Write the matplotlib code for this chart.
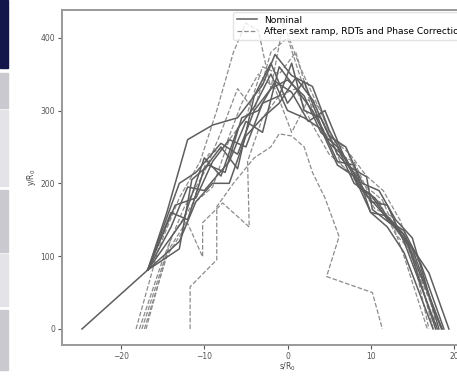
import matplotlib
matplotlib.use("Agg")
import matplotlib.pyplot as plt
from matplotlib.patches import Rectangle

# Nominal curves (solid)
nom_x = [
    [-24.7, -16.8, -14.5, -12, -9, -6, -3, -1.5, 0.5, 3, 5, 7.4, 9.5, 10.2, 13.8, 17, 19.4],
    [-16.8, -13, -11, -8, -6, -4, -2, 0, 2, 4, 6, 8, 10, 12, 14, 16, 18.8],
    [-16.8, -14, -12, -10, -7, -5, -3, -1, 1, 3, 5, 7, 9, 11, 13, 15, 18.5],
    [-16.8, -13.5, -11, -9, -7, -5, -3, -1, 0.5, 2, 4, 6, 8, 10, 12, 14, 18],
    [-16.8, -12.5, -10, -8, -6, -4, -2, 0, 2, 4, 6, 8, 10, 12, 14, 17.5],
    [-16.8, -13, -11, -9, -7, -5, -3, -1, 1, 3, 5, 7, 9, 11, 13, 15, 18.2],
    [-16.8, -14, -12, -10, -8, -6, -4, -2, 0, 2, 4, 6, 8, 10, 12, 14, 18.6],
    [-16.8, -13, -11.5, -9.5, -7.5, -5.5, -3.5, -1.5, 0.5, 2.5, 4.5, 6.5, 8.5, 10.5, 12.5, 14.5, 17.8],
]
nom_y = [
    [0, 81, 160, 260, 280, 290, 335, 377, 348, 333, 273, 223, 209, 164, 132, 77, 0],
    [81, 200, 215, 255, 240, 300, 330, 342, 320, 270, 250, 200, 185, 150, 135, 90, 0],
    [81, 140, 195, 190, 230, 285, 270, 360, 330, 300, 255, 235, 190, 165, 140, 110, 0],
    [81, 170, 180, 230, 260, 250, 310, 320, 365, 300, 290, 240, 215, 175, 170, 120, 0],
    [81, 150, 235, 210, 275, 305, 350, 300, 290, 275, 225, 210, 160, 140, 105, 0],
    [81, 120, 175, 200, 200, 265, 290, 310, 345, 315, 265, 250, 200, 190, 150, 125, 0],
    [81, 160, 150, 220, 250, 220, 320, 365, 310, 340, 280, 230, 225, 160, 155, 130, 0],
    [81, 110, 205, 225, 215, 290, 300, 340, 325, 285, 300, 245, 195, 180, 145, 115, 0],
]

# After sextupole ramp + corrections (dashed)
corr_x = [
    [-18.2, -15.5, -13, -10.5, -8.5, -6.5, -5, -3.5, -2, -0.5, 1.5, 3.5, 5.5, 7.5, 9.5, 11.5, 13.5, 15.5, 17.5],
    [-17.8, -15, -12.5, -10, -8, -6, -4, -2, 0, 2, 4, 6, 8, 10, 12, 14, 16, 18],
    [-17.5, -14.5, -12, -9.5, -7.5, -5.5, -3.5, -1.5, 0.5, 2.5, 4.5, 6.5, 8.5, 10.5, 12.5, 14.5, 18.5],
    [-17, -14, -11.5, -9, -7, -5, -3, -1, 1, 3, 5, 7, 9, 11, 13, 15, 17],
    [-11.7, -11.7, -8.5, -8.5, -6.5, -4, -2, -1, 0.5, 2, 3, 4.5, 6.2, 4.7, 10.2, 11.4],
    [-17.2, -14.5, -12, -10.2, -10.2, -7.8, -4.6, -4.8, -3, -1, 1, 3, 5, 7, 9, 11.4, 12.6, 14, 16.8],
]
corr_y = [
    [0, 110, 180, 230, 300, 380, 420, 410, 330, 420, 360, 310, 260, 240, 210, 190, 150, 90, 0],
    [0, 95, 165, 215, 270, 330, 300, 380, 400, 330, 300, 240, 230, 180, 170, 120, 90, 0],
    [0, 105, 150, 240, 250, 310, 350, 330, 270, 315, 280, 225, 200, 165, 155, 110, 0],
    [0, 125, 170, 195, 260, 290, 360, 350, 380, 300, 260, 250, 190, 175, 130, 105, 0],
    [0, 58, 95, 168, 200, 235, 250, 268, 265, 250, 215, 180, 127, 72, 50, 0],
    [0, 100, 145, 99, 146, 173, 140, 230, 290, 320, 330, 280, 240, 220, 200, 177, 145, 100, 0],
]

fig = plt.figure(figsize=(4.57, 3.76), dpi=100)

# bits of the surrounding page on the left edge
fig.patches.append(Rectangle((0, 1 - 68 / 376), 8 / 457, 68 / 376, transform=fig.transFigure, color="#12164a"))
for top, bot, col in [(73, 108, "#c9c9cf"), (110, 186, "#e4e4e8"), (190, 252, "#c9c9cf"),
                      (254, 306, "#e4e4e8"), (310, 370, "#c9c9cf")]:
    fig.patches.append(Rectangle((0, 1 - bot / 376), 8 / 457, (bot - top) / 376,
                                 transform=fig.transFigure, color=col))

ax = fig.add_axes([62 / 457, 31 / 376, 451 / 457, 335 / 376])

for i in range(len(corr_x)):
    ax.plot(corr_x[i], corr_y[i], '--', color='#8c8c8c', lw=0.9,
            label='After sext ramp, RDTs and Phase Correction' if i == 0 else None)
for i in range(len(nom_x)):
    ax.plot(nom_x[i], nom_y[i], '-', color='#5e5e5e', lw=1.1,
            label='Nominal' if i == 0 else None)

ax.set_xlim(-27.1, 27.1)
ax.set_ylim(-22, 438)
ax.set_xticks([-20, -10, 0, 10, 20])
ax.set_yticks([0, 100, 200, 300, 400])
ax.tick_params(labelsize=5.5, colors='#555555', length=3, width=0.8, pad=2)
ax.set_xlabel('s/R$_0$', fontsize=5.5, color='#444444', labelpad=0)
ax.set_ylabel('y/R$_0$', fontsize=5.5, color='#444444', labelpad=2)
for sp in ax.spines.values():
    sp.set_color('#999999')
    sp.set_linewidth(1.4)

handles, labels = ax.get_legend_handles_labels()
leg = ax.legend(handles[::-1], labels[::-1], loc='upper left', bbox_to_anchor=(233 / 457, 1 - 12 / 376),
                bbox_transform=fig.transFigure, fontsize=6.6, frameon=True, borderaxespad=0,
                handlelength=2.2, labelspacing=0.3)
leg.get_frame().set_edgecolor('#dddddd')

fig.savefig('out.png', dpi=100)
